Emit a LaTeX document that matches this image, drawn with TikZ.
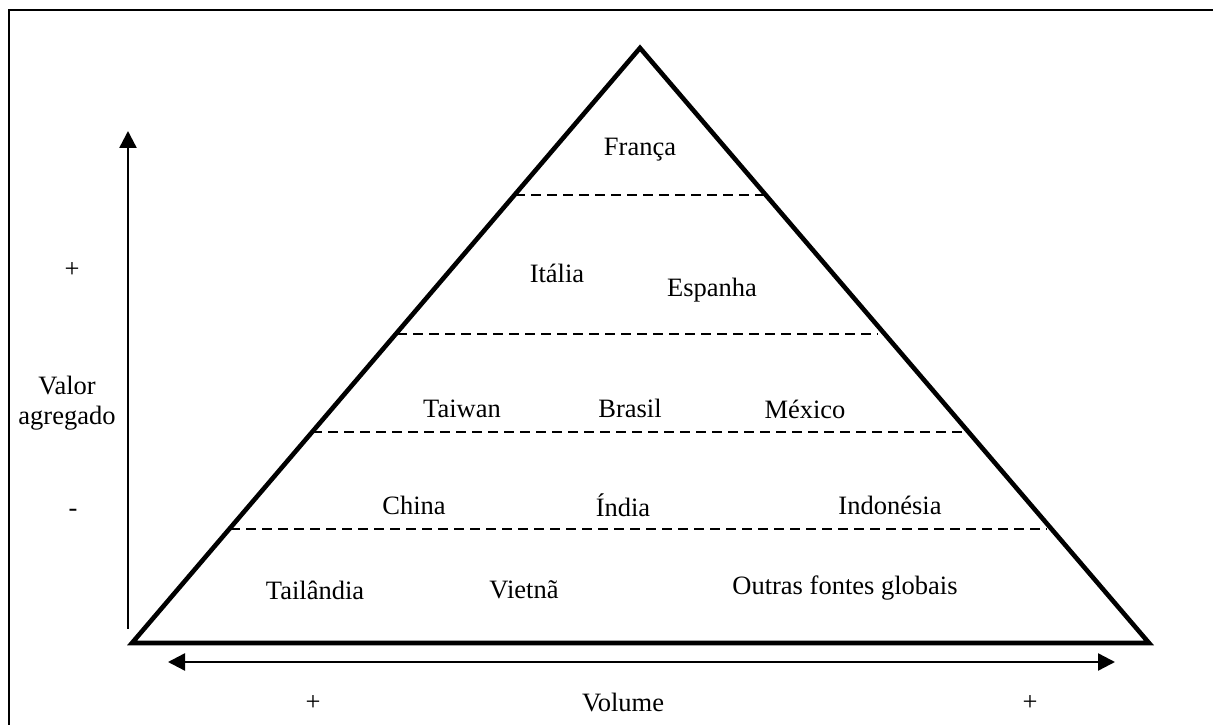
\documentclass[tikz,border=0pt]{standalone}
\usepackage{fontspec}
\setmainfont{Liberation Serif}
\usetikzlibrary{arrows.meta}

\tikzset{
  lbl/.style={font=\fontsize{26.5}{30}\selectfont, inner sep=0pt},
  tier/.style={line width=2.2pt, dash pattern=on 10pt off 6pt},
  axis/.style={line width=2.4pt, {Triangle[length=17pt,width=17pt]}-{Triangle[length=17pt,width=17pt]}}
}

\begin{document}
\begin{tikzpicture}[x=1pt,y=1pt]
        \useasboundingbox (0,0) rectangle (1213,725);
        \draw[line width=2.6pt] (9,0) -- (9,715) -- (1214,715);

        % pyramid
        \coordinate (apex) at (640,677);
        \coordinate (bl) at (132,82);
        \coordinate (br) at (1149,82);
        \draw[line width=4.6pt, line join=miter] (bl) -- (apex) -- (br) -- cycle;
        \draw[tier] (515,530) -- (765,530);
        \draw[tier] (397,391) -- (878,391);
        \draw[tier] (312,293) -- (962,293);
        \draw[tier] (230,196) -- (1047,196);

        % axes
        \coordinate (vlow) at (128,96);
        \coordinate (vhigh) at (128,594);
        \draw[axis, {Triangle[length=17pt,width=17pt]}-{}] (vhigh) -- (vlow);
        \coordinate (hleft) at (168,63);
        \coordinate (hright) at (1115,63);
        \draw[axis] (hleft) -- (hright);

        \node[lbl] (franca) at (640,575) {França};
        \node[lbl] (italia) at (557,452) {Itália};
        \node[lbl] (espanha) at (712,435) {Espanha};
        \node[lbl] (taiwan) at (462,316) {Taiwan};
        \node[lbl] (brasil) at (630,317) {Brasil};
        \node[lbl] (mexico) at (805,316) {México};
        \node[lbl] (china) at (414,220) {China};
        \node[lbl] (india) at (623,220) {Índia};
        \node[lbl] (indonesia) at (890,220) {Indonésia};
        \node[lbl] (tailandia) at (315,135) {Tailândia};
        \node[lbl] (vietna) at (524,135) {Vietnã};
        \node[lbl] (outras) at (845,137) {Outras fontes globais};

        \node[lbl] (vplus) at (72,455) {+};
        \node[lbl, align=center] (valor) at (67,322) {Valor\\agregado};
        \node[lbl] (vminus) at (73,212) {-};
        \node[lbl] (hplusl) at (313,22) {+};
        \node[lbl] (volume) at (623,22) {Volume};
        \node[lbl] (hplusr) at (1030,22) {+};
      \end{tikzpicture}
\end{document}
